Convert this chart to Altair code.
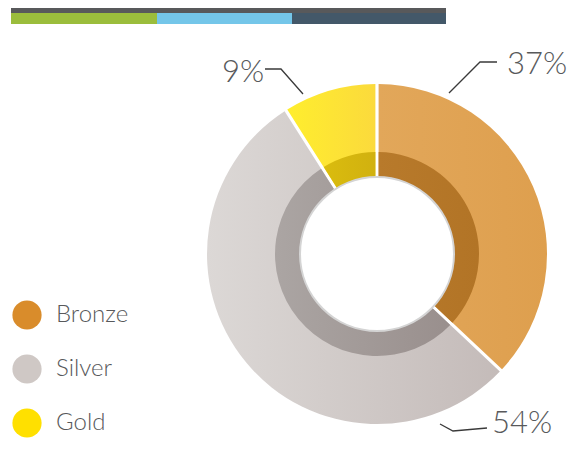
import math
import altair as alt
import pandas as pd

# ---- data -------------------------------------------------------------
CATEGORIES = ["Bronze", "Silver", "Gold"]
SHARES = [37, 54, 9]

LEGEND_COLORS = ["#D98C2B", "#CFC8C5", "#FFE000"]
OUTER_GRADIENTS = [("#E2A75A", "#DE9F4E"), ("#DCD8D6", "#C4BBB9"), ("#FFEE2E", "#FBDA3C")]
RING_GRADIENTS = [("#B87A2B", "#B27426"), ("#ABA5A3", "#998F8D"), ("#DABC0E", "#D1B10F")]

HEADER_SEGMENTS = ["green", "blue", "slate"]
HEADER_VALUES = [146, 135, 154]
HEADER_COLORS = ["#9BBD3C", "#74C6E9", "#435869"]
HEADER_STRIP_COLOR = "#58595B"

# label annotation layout (chart pixel space)
LABEL_TEXT_X = [499, 484, 214]
LABEL_TEXT_Y = [66, 425, 74]
LEADER_X = [[441, 472, 489], [432, 445, 479], [295, 273, 257]]
LEADER_Y = [[85, 54, 54], [416, 423, 420], [86, 61, 61]]

TEXT_COLOR = "#58595B"
FONT = "Lato"

W, H = 563, 433
CX, CY = 369, 246
R_HOLE, R_RING, R_OUT = 77, 102, 170

# ---- tables -----------------------------------------------------------
pie_df = pd.DataFrame({"cat": CATEGORIES, "value": SHARES, "idx": list(range(len(CATEGORIES)))})
header_df = pd.DataFrame({"seg": HEADER_SEGMENTS, "value": HEADER_VALUES, "idx": list(range(len(HEADER_SEGMENTS)))})

label_df = pd.DataFrame({
    "label": [f"{v}%" for v in SHARES],
    "tx": LABEL_TEXT_X,
    "ty": LABEL_TEXT_Y,
})
leader_rows = []
for i, v in enumerate(SHARES):
    for k, (px, py) in enumerate(zip(LEADER_X[i], LEADER_Y[i])):
        leader_rows.append({"label": f"{v}%", "k": k, "px": px, "py": py})
leader_df = pd.DataFrame(leader_rows)

theta_scale = alt.Scale(domain=[0, 100], range=[0, 2 * math.pi])


def grad(c0, c1):
    return alt.Gradient(
        gradient="linear",
        stops=[alt.GradientStop(color=c0, offset=0), alt.GradientStop(color=c1, offset=1)],
        x1=0, x2=1, y1=0, y2=0,
    )


pie_base = (
    alt.Chart(pie_df)
    .transform_window(end="sum(value)", sort=[alt.SortField("idx")], frame=[None, 0])
    .transform_calculate(start="datum.end - datum.value")
)

layers = []

# header bars
header_base = (
    alt.Chart(header_df)
    .transform_window(end="sum(value)", sort=[alt.SortField("idx")], frame=[None, 0])
    .transform_calculate(start="datum.end - datum.value")
)
hx = alt.Scale(domain=[0, sum(HEADER_VALUES)], range=[3, 438])
strip = (
    alt.Chart(header_df)
    .transform_aggregate(total="sum(value)")
    .transform_calculate(zero="0")
    .mark_rect(color=HEADER_STRIP_COLOR)
    .encode(x=alt.X("zero:Q", scale=hx, axis=None), x2="total:Q", y=alt.value(0), y2=alt.value(5))
)
bars = header_base.mark_rect().encode(
    x=alt.X("start:Q", scale=hx, axis=None),
    x2="end:Q",
    y=alt.value(5),
    y2=alt.value(16),
    fill=alt.Fill("seg:N", scale=alt.Scale(domain=HEADER_SEGMENTS, range=HEADER_COLORS), legend=None),
)
layers += [strip, bars]

# outer arcs and inner ring arcs
for cat, og, rg in zip(CATEGORIES, OUTER_GRADIENTS, RING_GRADIENTS):
    outer = (
        pie_base.transform_filter(alt.datum.cat == cat)
        .mark_arc(innerRadius=R_HOLE, outerRadius=R_OUT, padAngle=3.2 / math.hypot(R_HOLE, R_OUT), color=grad(*og))
        .encode(theta=alt.Theta("start:Q", scale=theta_scale), theta2="end:Q", x=alt.value(CX), y=alt.value(CY))
    )
    ring = (
        pie_base.transform_filter(alt.datum.cat == cat)
        .mark_arc(innerRadius=R_HOLE, outerRadius=R_RING, padAngle=3.2 / math.hypot(R_HOLE, R_RING), color=grad(*rg))
        .encode(theta=alt.Theta("start:Q", scale=theta_scale), theta2="end:Q", x=alt.value(CX), y=alt.value(CY))
    )
    layers += [outer, ring]

# white hole with grey rim
hole = (
    alt.Chart(pie_df)
    .transform_aggregate(total="sum(value)")
    .transform_calculate(zero="0")
    .mark_arc(innerRadius=0, outerRadius=R_HOLE, fill="white", stroke="#D4D4D4", strokeWidth=2)
    .encode(theta=alt.Theta("zero:Q", scale=theta_scale), theta2="total:Q", x=alt.value(CX), y=alt.value(CY))
)
layers.append(hole)

# legend (invisible marks that carry the colour scale)
legend_layer = alt.Chart(pie_df).mark_circle(opacity=0).encode(
    color=alt.Color(
        "cat:N",
        scale=alt.Scale(domain=CATEGORIES, range=LEGEND_COLORS),
        legend=alt.Legend(
            title=None,
            orient="none",
            legendX=4,
            legendY=292,
            symbolType="circle",
            symbolSize=855,
            symbolOpacity=1,
            symbolStrokeWidth=0,
            labelFont=FONT,
            labelFontSize=24,
            labelFontWeight=300,
            labelColor=TEXT_COLOR,
            labelOffset=14,
            rowPadding=24,
            padding=0,
        ),
    ),
    x=alt.value(0),
    y=alt.value(0),
)
layers.append(legend_layer)

# leader lines and labels
leaders = alt.Chart(leader_df).mark_line(color="#3A3A3A", strokeWidth=1.3).encode(
    x=alt.X("px:Q", scale=None), y=alt.Y("py:Q", scale=None), detail="label:N", order="k:Q"
)
labels = alt.Chart(label_df).mark_text(
    align="left", baseline="alphabetic", font=FONT, fontSize=31, fontWeight=300, color=TEXT_COLOR
).encode(x=alt.X("tx:Q", scale=None), y=alt.Y("ty:Q", scale=None), text="label:N")
layers += [leaders, labels]

chart = (
    alt.layer(*layers)
    .resolve_scale(x="independent", y="independent")
    .properties(width=W, height=H, padding=0, autosize=alt.AutoSizeParams(type="none"))
    .configure_view(stroke=None)
)

chart.save("out.html", embed_options={"renderer": "svg", "actions": False})
